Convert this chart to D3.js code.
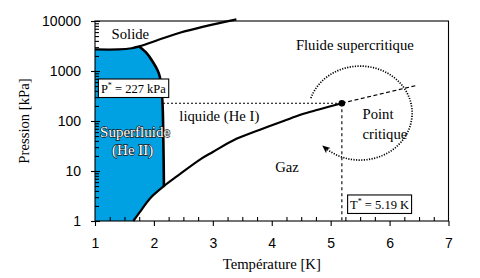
<!DOCTYPE html>
<html><head><meta charset="utf-8">
<script src="https://cdn.jsdelivr.net/npm/d3@7"></script>
<style>
html,body{margin:0;padding:0;background:#fff;}
svg{display:block;}
</style></head><body>
<svg id="c" width="480" height="278"></svg>
<script>
// ---- data ----
const xTickVals = [1, 2, 3, 4, 5, 6, 7];
const yTickVals = [1, 10, 100, 1000, 10000];
const meltT = [1.0, 1.4, 1.62, 1.75, 2.44, 3.40];
const meltP = [2700, 2700, 2850, 3100, 5830, 10800];
const lambdaT = [1.75, 1.88, 1.98, 2.06, 2.10, 2.143, 2.16, 2.17];
const lambdaP = [3100, 2260, 1535, 1047, 770, 263, 42, 5.0];
const vapT = [1.65, 1.76, 1.93, 2.17, 2.4, 2.8, 3.0, 3.4, 3.8, 4.2, 4.5, 4.8, 5.19];
const vapP = [1.0, 1.5, 2.8, 5.0, 8.0, 17.5, 24, 44, 67, 100, 135, 170, 227];
const critT = 5.19, critP = 227;
const superT = [5.19, 6.44];
const superP = [227, 508];
const labelText = ["Solide", "Fluide supercritique", "liquide (He I)", "Gaz", "Point", "critique"];
const labelT = [1.60, 5.41, 3.11, 4.26, 5.54, 5.54];
const labelP = [4266, 2630, 100, 9.7, 108, 43];
const labelAnchor = ["middle", "middle", "middle", "middle", "start", "start"];
const superLabels = ["Superfluide", "(He II)"];
const superLabelT = [1.68, 1.64];
const superLabelP = [47.2, 20.9];
const arcCenterT = 5.5, arcCenterP = 144;

// ---- scales ----
const svg = d3.select("#c");
const x = d3.scaleLinear().domain([1, 7]).range([95, 448.5]);
const y = d3.scaleLog().domain([1, 10000]).range([221, 21]);
const pts = (T, P) => T.map((t, i) => [t, P[i]]);
const line = d3.line().x(d => x(d[0])).y(d => y(d[1])).curve(d3.curveCatmullRom.alpha(0.5));

const serif = "'Liberation Serif','Times New Roman',serif";
const sans = "'Liberation Sans',Arial,sans-serif";

// P* dotted line (behind fill)
svg.append("line").attr("x1", x(1)).attr("x2", x(critT)).attr("y1", y(critP)).attr("y2", y(critP))
  .attr("stroke", "#000").attr("stroke-width", 1.1).attr("stroke-dasharray", "2,2");

// blue fill
const fillD = "M" + x(1) + "," + y(1) + "L" +
  line(pts(meltT, meltP).filter(d => d[0] <= 1.62)).slice(1) +
  line(pts(lambdaT, lambdaP)).replace(/^M/, "L") +
  line(pts(vapT, vapP).filter(d => d[0] <= 2.17).reverse()).replace(/^M/, "L") + "Z";
svg.append("path").attr("d", fillD).attr("fill", "#00a1e3");

// frame
svg.append("rect").attr("x", x(1)).attr("y", y(10000)).attr("width", x(7) - x(1)).attr("height", y(1) - y(10000))
  .attr("fill", "none").attr("stroke", "#000").attr("stroke-width", 1.1);

// axes
function styleAxis(g) {
  g.select(".domain").remove();
  g.selectAll("line").attr("stroke", "#000").attr("stroke-width", 1.1);
  g.selectAll("text").attr("font-family", sans).attr("font-size", 14).attr("fill", "#000");
}
svg.append("g").attr("transform", `translate(0,${y(1)})`)
  .call(d3.axisBottom(x).tickValues(xTickVals).tickSize(5).tickPadding(12).tickFormat(d3.format("d"))).call(styleAxis);
const xMinor = d3.range(1.25, 7, 0.25).filter(v => Math.abs(v - Math.round(v)) > 0.01);
svg.append("g").attr("transform", `translate(0,${y(1)})`)
  .call(d3.axisBottom(x).tickValues(xMinor).tickSize(-4).tickFormat("")).call(styleAxis);
svg.append("g").attr("transform", `translate(${x(1)},0)`)
  .call(d3.axisLeft(y).tickValues(yTickVals).tickSize(4).tickPadding(10).tickFormat(d3.format("d"))).call(styleAxis);
svg.append("g").attr("transform", `translate(${x(1)},0)`)
  .call(d3.axisLeft(y).tickValues(yTickVals).tickSize(-5).tickFormat("")).call(styleAxis);
const yMinor = [];
[1, 10, 100, 1000].forEach(b => { for (let k = 2; k <= 9; k++) yMinor.push(b * k); });
svg.append("g").attr("transform", `translate(${x(1)},0)`)
  .call(d3.axisLeft(y).tickValues(yMinor).tickSize(-4).tickFormat("")).call(styleAxis);

// axis titles
svg.append("text").attr("x", (x(1) + x(7)) / 2).attr("y", 269).attr("text-anchor", "middle")
  .attr("font-family", serif).attr("font-size", 14.7).text("Température [K]");
svg.append("text").attr("transform", `translate(29,${(y(1) + y(10000)) / 2}) rotate(-90)`).attr("text-anchor", "middle")
  .attr("font-family", serif).attr("font-size", 14.7).text("Pression [kPa]");

// vertical dashed T*
svg.append("line").attr("x1", x(critT)).attr("x2", x(critT)).attr("y1", y(critP)).attr("y2", y(1))
  .attr("stroke", "#000").attr("stroke-width", 1.1).attr("stroke-dasharray", "3,3");

// curves
const curveStyle = p => p.attr("fill", "none").attr("stroke", "#000").attr("stroke-width", 2.2).attr("stroke-linejoin", "round");
svg.append("path").attr("d", line(pts(meltT, meltP))).call(curveStyle);
svg.append("path").attr("d", line(pts(lambdaT, lambdaP))).call(curveStyle).attr("stroke-width", 2.6);
svg.append("path").attr("d", line(pts(vapT, vapP))).call(curveStyle);
svg.append("path").attr("d", d3.line().x(d => x(d[0])).y(d => y(d[1]))(pts(superT, superP)))
  .attr("fill", "none").attr("stroke", "#000").attr("stroke-width", 1.2).attr("stroke-dasharray", "4,2.5");

// critical point
svg.append("circle").attr("cx", x(critT)).attr("cy", y(critP)).attr("r", 3.3).attr("fill", "#000");

// dotted elliptical arrow
const cx = x(arcCenterT), cy = y(arcCenterP), rx = 52, ry = 47;
const t0 = 198.6 * Math.PI / 180, t1 = 493.2 * Math.PI / 180;
const arcPts = d3.range(0, 101).map(i => { const t = t0 + (t1 - t0) * i / 100; return [cx + rx * Math.cos(t), cy + ry * Math.sin(t)]; });
svg.append("path").attr("d", d3.line()(arcPts)).attr("fill", "none").attr("stroke", "#000")
  .attr("stroke-width", 1.7).attr("stroke-dasharray", "1.2,1.4");
{
  const e = arcPts[arcPts.length - 1];
  const dx = -rx * Math.sin(t1), dy = ry * Math.cos(t1);
  const a = Math.atan2(dy, dx) * 180 / Math.PI;
  svg.append("path").attr("d", "M3,0L-5,-3.5L-3,0L-5,3.5Z").attr("fill", "#000")
    .attr("transform", `translate(${e[0]},${e[1]}) rotate(${a})`);
}

// region labels
labelText.forEach((t, i) => {
  svg.append("text").attr("x", x(labelT[i])).attr("y", y(labelP[i])).attr("text-anchor", labelAnchor[i])
    .attr("font-family", serif).attr("font-size", 14.7).attr("fill", "#000").text(t);
});
superLabels.forEach((t, i) => {
  svg.append("text").attr("x", x(superLabelT[i])).attr("y", y(superLabelP[i])).attr("text-anchor", "middle")
    .attr("font-family", serif).attr("font-size", 15).attr("fill", "#fff")
    .attr("stroke", "#1a1a1a").attr("stroke-width", 1.3).attr("paint-order", "stroke").attr("stroke-linejoin", "round").text(t);
});

// boxed labels
function boxLabel(T, P, main, rest) {
  const g = svg.append("g");
  const tx = g.append("text").attr("x", x(T)).attr("y", y(P)).attr("font-family", serif).attr("font-size", 12.5).attr("fill", "#000");
  tx.append("tspan").text(main);
  tx.append("tspan").attr("font-size", 8).attr("dy", -5).text("*");
  tx.append("tspan").attr("dy", 5).text(rest);
  const bb = tx.node().getBBox();
  g.insert("rect", "text").attr("x", bb.x - 2.5).attr("y", bb.y - 2).attr("width", bb.width + 5).attr("height", bb.height + 3.5)
    .attr("fill", "#fff").attr("stroke", "#000").attr("stroke-width", 1.1);
}
boxLabel(1.10, 363, "P", " = 227 kPa");
boxLabel(5.33, 1.74, "T", " = 5.19 K");
</script>
</body></html>
